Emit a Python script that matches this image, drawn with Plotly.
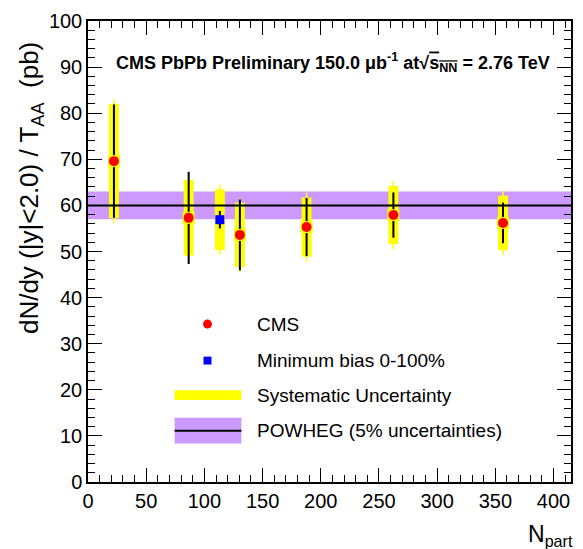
import plotly.graph_objects as go

# centrality bins (Npart) and CMS measurement
npart = [22.3, 86.5, 130.5, 187.8, 262.4, 356.6]
cms_y = [69.6, 57.3, 53.6, 55.3, 57.9, 56.2]
cms_stat = [12.3, 10.0, 7.7, 6.3, 4.9, 4.4]
cms_sys = [12.4, 8.2, 7.0, 6.4, 6.3, 5.9]
cms_sys_line = [13.4, 9.2, 8.0, 7.5, 7.4, 6.9]

# minimum bias 0-100%
mb_npart = [113.3]
mb_y = [56.9]
mb_stat = [1.9]
mb_sys = [6.6]
mb_sys_line = [7.6]

# POWHEG prediction with 5% uncertainty
powheg = 60.0
powheg_unc = 0.05

x_range = [0, 415]
y_range = [0, 100]

FONT = "Liberation Sans, Arial, Helvetica, sans-serif"
YELLOW = "#ffff00"
PURPLE = "#cc99ff"

fig = go.Figure()

# systematic boxes
fig.add_trace(go.Bar(
    x=npart + mb_npart,
    y=[2 * s for s in cms_sys + mb_sys],
    base=[v - s for v, s in zip(cms_y + mb_y, cms_sys + mb_sys)],
    width=8.5, marker=dict(color=YELLOW, line=dict(width=0)),
    showlegend=False, hoverinfo="skip"))

# thin yellow lines of the systematic graph
fig.add_trace(go.Scatter(
    x=npart + mb_npart, y=cms_y + mb_y, mode="markers",
    marker=dict(size=0.1, color=YELLOW),
    error_y=dict(type="data", array=cms_sys_line + mb_sys_line,
                 color=YELLOW, thickness=1.5, width=0),
    showlegend=False, hoverinfo="skip"))

# POWHEG central line
fig.add_trace(go.Scatter(
    x=x_range, y=[powheg, powheg], mode="lines",
    line=dict(color="black", width=2),
    showlegend=False, hoverinfo="skip"))

# statistical error bars
fig.add_trace(go.Scatter(
    x=npart + mb_npart, y=cms_y + mb_y, mode="markers",
    marker=dict(size=0.1, color="black"),
    error_y=dict(type="data", array=cms_stat + mb_stat,
                 color="black", thickness=2, width=0),
    showlegend=False, hoverinfo="skip"))

# yellow square behind the markers
fig.add_trace(go.Scatter(
    x=npart, y=cms_y, mode="markers",
    marker=dict(symbol="square", size=12, color=YELLOW),
    showlegend=False, hoverinfo="skip"))

fig.add_trace(go.Scatter(
    x=npart, y=cms_y, mode="markers", name="CMS",
    marker=dict(symbol="circle", size=10, color="#ff0000"),
    showlegend=False))

fig.add_trace(go.Scatter(
    x=mb_npart, y=mb_y, mode="markers", name="Minimum bias 0-100%",
    marker=dict(symbol="square", size=9, color="#0000ff"),
    showlegend=False))

# POWHEG band
fig.add_shape(type="rect", xref="paper", x0=0, x1=1, yref="y",
              y0=powheg * (1 - powheg_unc), y1=powheg * (1 + powheg_unc),
              fillcolor=PURPLE, line=dict(width=0), layer="below")


# legend drawn by hand (pixel positions converted to paper coords)
def px(x):
    return (x - 88) / 485


def py(y):
    return (482 - y) / 467


leg_font = dict(family=FONT, size=19, color="black")
rows = [(322, "CMS"), (359, "Minimum bias 0-100%"),
        (394, "Systematic Uncertainty"), (430, "POWHEG (5% uncertainties)")]
for yy, txt in rows:
    fig.add_annotation(x=px(256), y=py(yy), xref="paper", yref="paper",
                       text=txt, showarrow=False, xanchor="left",
                       yanchor="middle", font=leg_font)

fig.add_shape(type="circle", xref="paper", yref="paper",
              x0=px(203.5), x1=px(212.5), y0=py(326.5), y1=py(317.5),
              fillcolor="#ff0000", line=dict(width=0))
fig.add_shape(type="rect", xref="paper", yref="paper",
              x0=px(204), x1=px(212), y0=py(363), y1=py(355),
              fillcolor="#0000ff", line=dict(width=0))
fig.add_shape(type="rect", xref="paper", yref="paper",
              x0=px(175), x1=px(242), y0=py(399), y1=py(389),
              fillcolor=YELLOW, line=dict(width=0))
fig.add_shape(type="rect", xref="paper", yref="paper",
              x0=px(175), x1=px(242), y0=py(443), y1=py(417),
              fillcolor=PURPLE, line=dict(width=0))
fig.add_shape(type="line", xref="paper", yref="paper",
              x0=px(175), x1=px(242), y0=py(430), y1=py(430),
              line=dict(color="black", width=2))

# header
fig.add_annotation(
    x=px(114), y=py(57), xref="paper", yref="paper", showarrow=False,
    xanchor="left", yanchor="middle",
    text="<b>CMS PbPb Preliminary 150.0 \u03bcb<sup>-1</sup> at"
         "\u221a<span style='text-decoration:overline'>s<sub>NN</sub></span>"
         " = 2.76 TeV</b>",
    font=dict(family=FONT, size=18, color="black"))

# axis titles
fig.add_annotation(
    x=px(31), y=py(184), xref="paper", yref="paper", showarrow=False,
    textangle=-90, xanchor="center", yanchor="middle",
    text="dN/dy (|y|<2.0) / T<sub>AA</sub>  (pb)",
    font=dict(family=FONT, size=26, color="black"))
fig.add_annotation(
    x=px(577), y=py(536), xref="paper", yref="paper", showarrow=False,
    xanchor="right", yanchor="middle",
    text="N<sub>part</sub>",
    font=dict(family=FONT, size=23, color="black"))

axis_common = dict(
    showgrid=False, zeroline=False, showline=True, linecolor="black",
    linewidth=1.5, mirror="ticks", ticks="inside", ticklen=14,
    tickwidth=1, tickcolor="black",
    tickfont=dict(family=FONT, size=20, color="black"))

fig.update_xaxes(range=x_range, dtick=50, tick0=0,
                 minor=dict(dtick=10, ticks="inside", ticklen=7,
                            tickcolor="black"),
                 **axis_common)
fig.update_yaxes(range=y_range, dtick=10, tick0=0,
                 minor=dict(dtick=2, ticks="inside", ticklen=7,
                            tickcolor="black"),
                 **axis_common)

fig.update_layout(
    width=583, height=549,
    margin=dict(l=88, r=10, t=15, b=67),
    paper_bgcolor="white", plot_bgcolor="white",
    barmode="overlay", showlegend=False,
    font=dict(family=FONT, color="black"))

# the page body has a default 8px margin; remove it so the figure fills the window
fig.write_html("out.html", config={"displayModeBar": False},
               post_script="document.body.style.margin='0';")
